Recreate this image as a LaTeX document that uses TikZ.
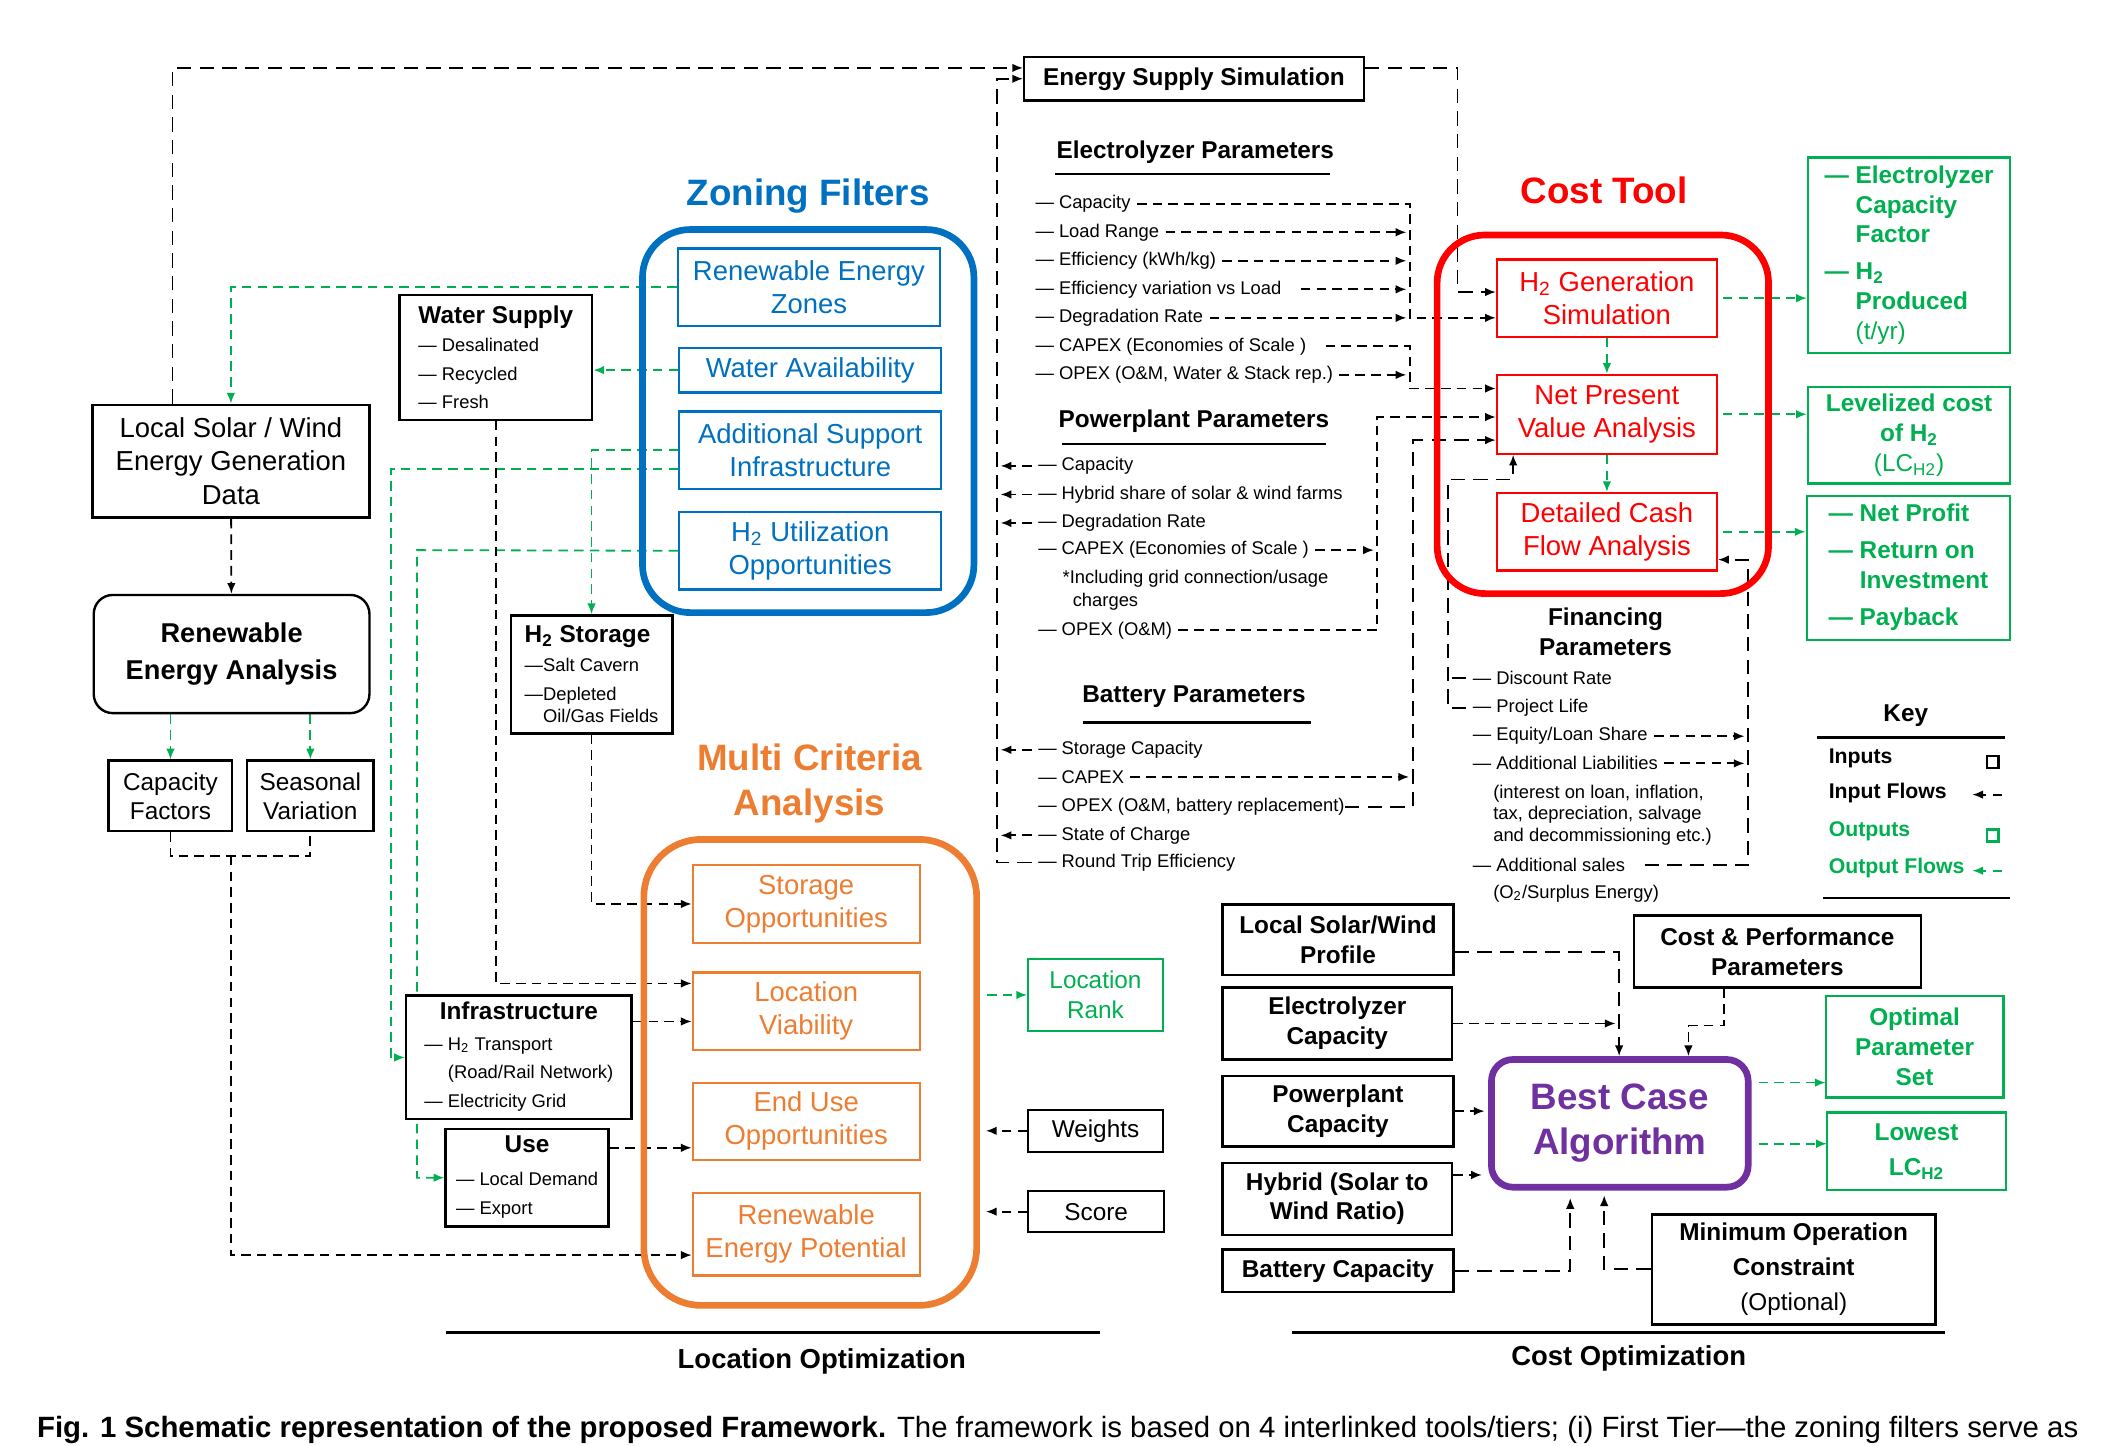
\documentclass[tikz,border=0pt]{standalone}
\usepackage{fontspec}
\setmainfont{Liberation Sans}
\usetikzlibrary{arrows.meta, positioning, backgrounds}

\definecolor{zblue}{HTML}{0070C0}
\definecolor{cred}{HTML}{FF0000}
\definecolor{morange}{HTML}{ED7D31}
\definecolor{ogreen}{HTML}{00B050}
\definecolor{bpurple}{HTML}{7030A0}

\newcommand\szitem{\fontsize{7.7}{12}\selectfont}
\newcommand\szbox{\fontsize{11.5}{13.8}\selectfont}
\newcommand\szcap{\fontsize{10.2}{12}\selectfont}
\newcommand\szhead{\fontsize{10.2}{12.5}\selectfont\bfseries}
\newcommand\szbig{\fontsize{11.4}{15.4}\selectfont\bfseries}
\newcommand\sztitle{\fontsize{15.4}{18.8}\selectfont\bfseries}
\newcommand\szkey{\fontsize{8.9}{10}\selectfont\bfseries}

\tikzset{
  spot/.style n args={4}{at={({(#1+#3)/2},{(#2+#4)/2})},
    minimum width={(#3-#1)*0.02cm}, minimum height={(#4-#2)*0.02cm}},
  box/.style={draw, line width=1pt, fill=white, inner sep=0pt, align=center},
  inbox/.style={box, font=\szhead},
  zfbox/.style={box, draw=zblue, text=zblue, line width=0.9pt, font=\szbox},
  mcabox/.style={box, draw=morange, text=morange, line width=0.9pt, font=\szbox},
  ctbox/.style={box, draw=cred, text=cred, line width=0.9pt, font=\szbox},
  outbox/.style={box, draw=ogreen, text=ogreen, line width=0.9pt, font=\szhead},
  tier/.style={draw, line width=2.8pt, inner sep=0pt, rounded corners=20pt},
  param/.style={anchor=west, inner sep=0pt, font=\szitem},
  headrule/.style={line width=1.1pt},
  dline/.style={draw=black, line width=0.75pt, dash pattern=on 4pt off 2.6pt},
  ldline/.style={dline, dash pattern=on 6pt off 3.5pt},
  gline/.style={draw=ogreen, line width=0.75pt, dash pattern=on 4pt off 2.6pt},
  fromparam/.style={shorten <=2.5pt},
  tobus/.style={shorten >=1.5pt},
}

\begin{document}
\begin{tikzpicture}[x=0.02cm, y=-0.02cm, >={Latex[length=4.5pt,width=3.6pt]}]
  \useasboundingbox (0,0) rectangle (1560,1064);

  % location tier, left column
  \node[box, font=\fontsize{11.5}{14.2}\selectfont, spot={68}{298}{272}{381}] (lsw) {Local Solar / Wind\\Energy Generation\\Data};
  \node[box, font=\szbig, rounded corners=8pt, spot={69}{438}{272}{525}] (rea) {Renewable\\Energy Analysis};
  \node[box, font=\szcap, spot={80}{560}{171}{612}] (cf) {Capacity\\Factors};
  \node[box, font=\szcap, spot={182}{560}{275}{612}] (sv) {Seasonal\\Variation};
  \node[box, font=\szitem, align=left, spot={294}{217}{436}{309}] (ws)
    {{\szhead Water Supply}\\— Desalinated\\— Recycled\\— Fresh};
  \node[box, font=\szitem, align=left, spot={376}{453}{495}{540}] (h2s)
    {{\szhead H\textsubscript{2} Storage}\\—Salt Cavern\\—Depleted\\[-2.5pt]\phantom{—}Oil/Gas Fields};
  \node[box, font=\szitem, spot={299}{733}{465}{824}] (infra)
    {\begin{tabular}{@{}l@{}}\multicolumn{1}{@{}c@{}}{\szhead Infrastructure}\\[1pt]
     — H\textsubscript{2} Transport\\ \phantom{— }(Road/Rail Network)\\ — Electricity Grid\end{tabular}};
  \node[box, font=\szitem, spot={328}{831}{448}{903}] (use)
    {\begin{tabular}{@{}l@{}}\multicolumn{1}{@{}c@{}}{\szhead Use}\\[2pt]— Local Demand\\— Export\end{tabular}};

  % zoning filters
  \node[font=\sztitle, text=zblue] (zf_t) at (595,144) {Zoning Filters};
  \node[tier, draw=zblue, spot={473}{169}{717}{451}] (zf) {};
  \node[zfbox, spot={499}{183}{692}{240}] (zf_1) {Renewable Energy\\Zones};
  \node[zfbox, spot={500}{256}{693}{289}] (zf_2) {Water Availability};
  \node[zfbox, spot={500}{303}{693}{360}] (zf_3) {Additional Support\\Infrastructure};
  \node[zfbox, spot={500}{377}{693}{434}] (zf_4) {H\textsubscript{2} Utilization\\Opportunities};

  % multi criteria analysis
  \node[font=\sztitle, text=morange, align=center] (mca_t) at (596,577) {Multi Criteria\\Analysis};
  \node[tier, draw=morange, rounded corners=24pt, spot={474}{618}{719}{961}] (mca) {};
  \node[mcabox, spot={510}{637}{677}{694}] (mca_1) {Storage\\Opportunities};
  \node[mcabox, spot={510}{716}{677}{773}] (mca_2) {Location\\Viability};
  \node[mcabox, spot={510}{797}{677}{854}] (mca_3) {End Use\\Opportunities};
  \node[mcabox, spot={510}{878}{677}{939}] (mca_4) {Renewable\\Energy Potential};
  \node[box, font=\fontsize{10.2}{12.5}\selectfont, draw=ogreen, text=ogreen, spot={757}{706}{856}{759}] (lr) {Location\\Rank};
  \node[box, font=\szcap, spot={757}{817}{856}{848}] (wt) {Weights};
  \node[box, font=\szcap, spot={757}{877}{857}{907}] (sc) {Score};
  \draw[headrule] (328,981) -- (810,981);
  \node[font=\fontsize{11.5}{14}\selectfont\bfseries] (lo) at (605,1002) {Location Optimization};

  % parameter lists
  \node[box, font=\szhead, spot={754}{42}{1004}{74}] (ess) {Energy Supply Simulation};
  \node[font=\szhead] (ep) at (880,112) {Electrolyzer Parameters};
  \draw[headrule] (777,128) -- (979,128);
  \node[param] (el_1) at (762,150) {— Capacity};
  \node[param] (el_2) at (762,171) {— Load Range};
  \node[param] (el_3) at (762,192) {— Efficiency (kWh/kg)};
  \node[param] (el_4) at (762,213) {— Efficiency variation vs Load};
  \node[param] (el_5) at (762,234) {— Degradation Rate};
  \node[param] (el_6) at (762,255) {— CAPEX (Economies of Scale )};
  \node[param] (el_7) at (762,276) {— OPEX (O\&M, Water \& Stack rep.)};

  \node[font=\szhead] (pp) at (879,310) {Powerplant Parameters};
  \draw[headrule] (782,327) -- (976,327);
  \node[param] (pp_1) at (764,343) {— Capacity};
  \node[param] (pp_2) at (764,364) {— Hybrid share of solar \& wind farms};
  \node[param] (pp_3) at (764,385) {— Degradation Rate};
  \node[param] (pp_4) at (764,405) {— CAPEX (Economies of Scale )};
  \node[param, align=left, font=\fontsize{7.7}{9.7}\selectfont] (pp_n) at (782,434.5) {*Including grid connection/usage\\\hspace{0.55em}charges};
  \node[param] (pp_5) at (764,464) {— OPEX (O\&M)};

  \node[font=\szhead] (bp) at (879,513) {Battery Parameters};
  \draw[headrule] (797,532) -- (965,532);
  \node[param] (bt_1) at (764,552) {— Storage Capacity};
  \node[param] (bt_2) at (764,572) {— CAPEX};
  \node[param] (bt_3) at (764,594) {— OPEX (O\&M, battery replacement)};
  \node[param] (bt_4) at (764,615) {— State of Charge};
  \node[param] (bt_5) at (764,635) {— Round Trip Efficiency};

  % cost tool
  \node[font=\sztitle, text=cred] (ct_t) at (1181,140) {Cost Tool};
  \node[tier, draw=cred, spot={1058}{173}{1302}{437}] (ct) {};
  \node[ctbox, spot={1102}{191}{1264}{248}] (ct_1) {H\textsubscript{2} Generation\\Simulation};
  \node[ctbox, spot={1102}{276}{1264}{334}] (ct_2) {Net Present\\Value Analysis};
  \node[ctbox, spot={1102}{363}{1264}{420}] (ct_3) {Detailed Cash\\Flow Analysis};

  \node[font=\szhead, align=center] (fp) at (1182,465) {Financing\\Parameters};
  \node[param] (fp_1) at (1084,499) {— Discount Rate};
  \node[param] (fp_2) at (1084,521) {— Project Life};
  \node[param] (fp_3) at (1084,542) {— Equity/Loan Share};
  \node[param] (fp_4) at (1084,562) {— Additional Liabilities};
  \node[param, align=left, font=\fontsize{7.7}{9.1}\selectfont] (fp_n) at (1099,600) {(interest on loan, inflation,\\tax, depreciation, salvage\\and decommissioning etc.)};
  \node[param] (fp_5) at (1084,637) {— Additional sales};
  \node[param] (fp_o) at (1099,658) {(O\textsubscript{2}/Surplus Energy)};

  \node[outbox, spot={1331}{116}{1480}{260}] (oc_1)
    {\begin{tabular}{@{}l@{ }l@{}}— & Electrolyzer\\ & Capacity\\ & Factor\\[3pt]— & H\textsubscript{2}\\ & Produced\\ & \normalfont(t/yr)\end{tabular}};
  \node[outbox, spot={1331}{285}{1480}{356}] (oc_2) {Levelized cost\\of H\textsubscript{2}\\{\normalfont(LC\textsubscript{H2})}};
  \node[outbox, spot={1330}{365}{1480}{471}] (oc_3)
    {\begin{tabular}{@{}l@{ }l@{}}— & Net Profit\\[3pt]— & Return on\\ & Investment\\[3pt]— & Payback\end{tabular}};

  % key
  \node[font=\szhead] (key) at (1403,527) {Key};
  \draw[headrule] (1338,543) -- (1476,543);
  \node[param, font=\szkey] (k_1) at (1346,558) {Inputs};
  \node[param, font=\szkey] (k_2) at (1346,584) {Input Flows};
  \node[param, font=\szkey, text=ogreen] (k_3) at (1346,612) {Outputs};
  \node[param, font=\szkey, text=ogreen] (k_4) at (1346,639) {Output Flows};
  \node[draw, line width=1pt, minimum size=5pt, inner sep=0pt] (k_1s) at (1467,561) {};
  \node[draw=ogreen, line width=1pt, minimum size=5pt, inner sep=0pt] (k_3s) at (1467,615) {};
  \coordinate (k_2a) at (1474,585);
  \coordinate (k_2b) at (1452,585);
  \coordinate (k_4a) at (1474,641);
  \coordinate (k_4b) at (1452,641);
  \draw[headrule] (1342,661) -- (1480,661);

  % cost optimization
  \node[inbox, spot={900}{666}{1070}{718}] (co_1) {Local Solar/Wind\\Profile};
  \node[inbox, spot={900}{727}{1069}{780}] (co_2) {Electrolyzer\\Capacity};
  \node[inbox, spot={900}{792}{1070}{844}] (co_3) {Powerplant\\Capacity};
  \node[inbox, spot={900}{856}{1069}{909}] (co_4) {Hybrid (Solar to\\Wind Ratio)};
  \node[inbox, spot={900}{920}{1070}{951}] (co_5) {Battery Capacity};
  \node[inbox, spot={1203}{674}{1414}{727}] (cp) {Cost \& Performance\\Parameters};
  \node[box, draw=bpurple, text=bpurple, line width=2.8pt, rounded corners=9pt, font=\sztitle, spot={1098}{780}{1287}{874}] (bca) {Best Case\\Algorithm};
  \node[outbox, spot={1344}{733}{1475}{808}] (op_1) {Optimal\\Parameter\\Set};
  \node[outbox, font=\fontsize{10.2}{14.8}\selectfont\bfseries, spot={1345}{819}{1477}{876}] (op_2) {Lowest\\LC\textsubscript{H2}};
  \node[inbox, font=\fontsize{10.2}{14.8}\selectfont\bfseries, spot={1216}{894}{1425}{975}] (moc) {Minimum Operation\\Constraint\\{\normalfont(Optional)}};
  \draw[headrule] (951,981) -- (1432,981);
  \node[font=\fontsize{11.5}{14}\selectfont\bfseries] (cop) at (1199,1000) {Cost Optimization};

  \node[anchor=west, inner sep=0pt] (cap) at (27,1053) {\resizebox{30.06cm}{!}{\textbf{Fig. 1 Schematic representation of the proposed Framework.} The framework is based on 4 interlinked tools/tiers; (i) First Tier—the zoning filters serve as}};

  \begin{scope}[on background layer]
    % location tier links
    \coordinate (top_c) at (127,50);
    \draw[ldline, ->] (lsw.north -| top_c) |- (ess.west |- top_c);
    \draw[dline, ->] (lsw) -- (rea);
    \draw[gline, ->] (zf_1.west) -| (lsw.north);
    \draw[gline, ->] (zf_2.west) -- (zf_2.west -| ws.east);
    \draw[gline, ->] (zf_3.west) -| (h2s.north);
    \coordinate (g_2) at (288,345);
    \draw[gline, ->] (zf_3.west |- g_2) -- (g_2) |- (infra.west);
    \coordinate (g_3) at (307,405);
    \draw[gline, ->] (zf_4.west) -- (g_3) |- (use.west);
    \draw[gline, ->] (rea.south -| cf.north) -- (cf.north);
    \draw[gline, ->] (rea.south -| sv.north) -- (sv.north);
    \coordinate (j_c) at (170,630);
    \coordinate (j_b) at (170,924);
    \draw[dline] (cf.south) |- (j_c) -| (sv.south);
    \draw[dline, ->] (j_c) -- (j_b) -- (j_b -| mca_4.west);
    \coordinate (b_ws) at (365,724);
    \draw[dline, ->] (ws.south) -- (b_ws) -- (b_ws -| mca_2.west);
    \draw[dline, ->] (h2s.south) |- (mca_1.west);
    \coordinate (b_in) at (465,752);
    \draw[dline, ->] (infra.east |- b_in) -- (b_in -| mca_2.west);
    \coordinate (b_us) at (448,845);
    \draw[dline, ->] (use.east |- b_us) -- (b_us -| mca_3.west);
    \draw[gline, shorten <=3pt, ->] (mca.east |- lr.west) -- (lr.west);
    \draw[dline, shorten >=2.5pt, ->] (wt.west) -- (wt.west -| mca.east);
    \draw[dline, shorten >=2.5pt, ->] (sc.west) -- (sc.west -| mca.east);

    % parameters to energy supply simulation
    \coordinate (bus_t) at (734,58);
    \draw[ldline, fromparam, ->] (bt_5.west) -| (bus_t) -- (ess.west);
    \draw[dline, fromparam, tobus, ->] (pp_1.west) -- (pp_1.west -| bus_t);
    \draw[dline, fromparam, tobus, ->] (pp_2.west) -- (pp_2.west -| bus_t);
    \draw[dline, fromparam, tobus, ->] (pp_3.west) -- (pp_3.west -| bus_t);
    \draw[dline, fromparam, tobus, ->] (bt_1.west) -- (bt_1.west -| bus_t);
    \draw[dline, fromparam, tobus, ->] (bt_4.west) -- (bt_4.west -| bus_t);

    % parameters to cost tool
    \coordinate (ess_r) at (1073,215);
    \draw[ldline, ->] (ess.east |- top_c) -| (ess_r) -- (ess_r -| ct_1.west);
    \coordinate (el_b) at (1038,255);
    \draw[dline, fromparam, ->] (el_1.east) -| (el_b |- el_5) -- (el_5 -| ct_1.west);
    \draw[dline, fromparam, tobus, ->] (el_2.east) -- (el_2.east -| el_b);
    \draw[dline, fromparam, tobus, ->] (el_3.east) -- (el_3.east -| el_b);
    \draw[dline, shorten <=8pt, tobus, ->] (el_4.east) -- (el_4.east -| el_b);
    \draw[dline, fromparam, tobus, ->] (el_5.east) -- (el_5.east -| el_b);
    \coordinate (el_c) at (1038,286);
    \draw[dline, shorten <=8pt, ->] (el_6.east) -| (el_c) -- (el_c -| ct_2.west);
    \draw[dline, fromparam, tobus, ->] (el_7.east) -- (el_7.east -| el_c);
    \coordinate (pp_b) at (1014,307);
    \draw[dline, fromparam, ->] (pp_5.east) -| (pp_b) -- (pp_b -| ct_2.west);
    \draw[dline, fromparam, tobus, ->] (pp_4.east) -- (pp_4.east -| pp_b);
    \coordinate (bt_b) at (1040,324);
    \draw[ldline, ->] (bt_3.east) -| (bt_b) -- (bt_b -| ct_2.west);
    \draw[dline, fromparam, tobus, ->] (bt_2.east) -- (bt_2.east -| bt_b);
    \coordinate (fin_l) at (1066,353);
    \coordinate (fin_u) at (1114,353);
    \draw[ldline, fromparam, ->] (fp_2.west) -| (fin_l) -- (fin_u) -- (fin_u |- ct_2.south);
    \draw[ldline, fromparam] (fp_1.west) -- (fp_1.west -| fin_l);
    \coordinate (fin_r) at (1287,412);
    \draw[ldline, shorten <=8pt, ->] (fp_5.east) -| (fin_r) -- (fin_r -| ct_3.east);
    \draw[dline, fromparam, tobus, ->] (fp_3.east) -- (fp_3.east -| fin_r);
    \draw[dline, fromparam, tobus, ->] (fp_4.east) -- (fp_4.east -| fin_r);

    % cost tool outputs
    \draw[gline, ->] (ct_1) -- (ct_2);
    \draw[gline, ->] (ct_2) -- (ct_3);
    \draw[gline, shorten <=2pt, ->] (ct_1.east) -- (ct_1.east -| oc_1.west);
    \draw[gline, shorten <=2pt, ->] (ct_2.east) -- (ct_2.east -| oc_2.west);
    \draw[gline, shorten <=2pt, ->] (ct_3.east) -- (ct_3.east -| oc_3.west);

    % cost optimization links
    \coordinate (co_v) at (1192,701);
    \draw[ldline, ->] (co_1.east |- co_v) -| (bca.north -| co_v);
    \draw[dline, tobus, ->] (co_2.east) -- (co_2.east -| co_v);
    \coordinate (cp_v) at (1269,755);
    \coordinate (cp_h) at (1243,755);
    \draw[dline, ->] (cp.south -| cp_v) -- (cp_v) -- (cp_h) -- (bca.north -| cp_h);
    \draw[dline, shorten >=1.5pt, ->] (co_3.east) -- (co_3.east -| bca.west);
    \coordinate (co_h) at (1091,865);
    \draw[dline, ->] (co_4.east |- co_h) -- (co_h);
    \coordinate (co_w) at (1156,882);
    \draw[ldline, ->] (co_5.east) -| (co_w);
    \coordinate (moc_w) at (1181,880);
    \draw[ldline, ->] (moc.west) -| (moc_w);
    \coordinate (op_a) at (1344,797);
    \draw[gline, shorten <=3pt, ->] (bca.east |- op_a) -- (op_a);
    \coordinate (op_b) at (1345,842);
    \draw[gline, shorten <=3pt, ->] (bca.east |- op_b) -- (op_b);

    % key flows
    \draw[dline, ->] (k_2a) -- (k_2b);
    \draw[gline, ->] (k_4a) -- (k_4b);
  \end{scope}
\end{tikzpicture}
\end{document}
